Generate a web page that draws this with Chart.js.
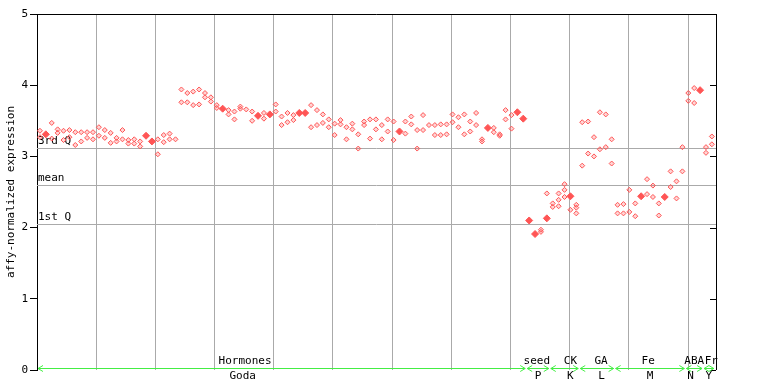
<!DOCTYPE html>
<html><head><meta charset="utf-8">
<script src="https://cdn.jsdelivr.net/npm/chart.js@4"></script>
<style>html,body{margin:0;padding:0;background:#fff}</style>
</head><body>
<canvas id="c" width="768" height="384"></canvas>
<script>
// replicate values per sample column (hollow markers)
const hollowValues = [
 [3.36,3.27],[],[3.47,3.25],[3.38,3.33],[3.36,3.23],[3.37,3.27],[3.34,3.16],[3.34,3.21],[3.34,3.26],[3.34,3.24],
 [3.41,3.29],[3.37,3.26],[3.33,3.19],[3.26,3.21],[3.37,3.24],[3.23,3.18],[3.24,3.18],[3.21,3.14],[],[],
 [3.24,3.03],[3.30,3.20],[3.32,3.24],[3.24],[3.94,3.76],[3.89,3.76],[3.91,3.72],[3.94,3.73],[3.89,3.83],[3.83,3.77],
 [3.72,3.68],[],[3.65,3.59],[3.63,3.52],[3.70,3.67],[3.66],[3.63,3.50],[],[3.61,3.53],[],
 [3.73,3.63],[3.56,3.44],[3.61,3.48],[3.58,3.51],[],[],[3.72,3.41],[3.65,3.44],[3.59,3.47],[3.52,3.41],
 [3.46,3.30],[3.51,3.45],[3.41,3.24],[3.46,3.38],[3.31,3.11],[3.49,3.44],[3.52,3.25],[3.52,3.38],[3.44,3.24],[3.52,3.35],
 [3.49,3.23],[],[3.49,3.32],[3.56,3.45],[3.37,3.11],[3.58,3.37],[3.44],[3.44,3.30],[3.45,3.30],[3.45,3.31],
 [3.59,3.48],[3.55,3.41],[3.59,3.31],[3.49,3.35],[3.61,3.44],[3.24,3.21],[],[3.40,3.34],[3.31,3.29],[3.65,3.52],
 [3.58,3.39],[],[],[],[],[1.97,1.94],[2.48],[2.34,2.29],[2.48,2.39,2.30],[2.61,2.53,2.43],
 [2.25],[2.32,2.28,2.20],[3.48,2.87],[3.49,3.04],[3.27,3.00],[3.62,3.10],[3.59,3.13],[3.24,2.90],[2.32,2.20],[2.33,2.20],
 [2.53,2.22],[2.34,2.16],[],[2.68,2.47],[2.59,2.43],[2.34,2.17],[],[2.79,2.57],[2.65,2.41],[3.13,2.79],
 [3.89,3.78],[3.96,3.75],[],[3.13,3.05],[3.28,3.17]
];
// filled markers (sample column, value)
const filledCols = [1,18,19,31,37,39,44,45,61,76,81,82,83,84,86,90,102,106,112];
const filledVals = [3.31,3.29,3.21,3.67,3.57,3.59,3.61,3.61,3.35,3.40,3.62,3.53,2.10,1.91,2.13,2.44,2.44,2.43,3.93];

const yTicks = [0,1,2,3,4,5];
const refLabels = ['3rd Q','mean','1st Q'];
const refValues = [3.12,2.60,2.05];

const groupTop    = ['Hormones','seed','CK','GA','Fe','ABA','Fr'];
const groupBottom = ['Goda','P','K','L','M','N','Y'];
const groupStart  = [0,83,87,92,98,110,113];
const groupEnd    = [82,86,91,97,109,112,114];
const topLabelPos    = [34.8,84.3,90.0,95.2,103.2,111.0,113.9];
const bottomLabelPos = [34.4,84.5,90.0,95.3,103.5,110.4,113.5];

const RED = '#ff5555';
const GREEN = '#44ee44';
const FONT = '"DejaVu Sans Mono", monospace';

const hollowData = [];
hollowValues.forEach((vals, i) => vals.forEach(v => hollowData.push({x: i, y: v})));
const filledData = filledCols.map((c, k) => ({x: c, y: filledVals[k]}));

const decor = {
  id: 'decor',
  beforeDatasetsDraw(chart) {
    const {ctx, chartArea: a, scales: {y}} = chart;
    ctx.save();
    ctx.strokeStyle = '#aaaaaa';
    ctx.lineWidth = 1;
    ctx.font = '11px ' + FONT;
    ctx.fillStyle = '#000';
    ctx.textAlign = 'left';
    ctx.textBaseline = 'bottom';
    refValues.forEach((v, k) => {
      const py = Math.round(y.getPixelForValue(v)) + 0.5;
      ctx.beginPath(); ctx.moveTo(a.left, py); ctx.lineTo(a.right, py); ctx.stroke();
    });
    refValues.forEach((v, k) => {
      const py = Math.round(y.getPixelForValue(v));
      ctx.fillText(refLabels[k], a.left + 1, py - 1);
    });
    ctx.restore();
  },
  afterDraw(chart) {
    const {ctx, chartArea: a, scales: {x, y}} = chart;
    ctx.save();
    ctx.strokeStyle = '#000';
    ctx.lineWidth = 1;
    ctx.beginPath();
    ctx.moveTo(a.left, a.top + 0.5); ctx.lineTo(a.right + 0.5, a.top + 0.5);
    ctx.moveTo(a.right + 0.5, a.top); ctx.lineTo(a.right + 0.5, a.bottom);
    ctx.stroke();
    yTicks.forEach(t => {
      const py = Math.round(y.getPixelForValue(t)) + 0.5;
      ctx.beginPath(); ctx.moveTo(a.right - 6, py); ctx.lineTo(a.right, py); ctx.stroke();
    });
    const ly = a.bottom - 1.5;
    ctx.strokeStyle = GREEN;
    groupTop.forEach((g, k) => {
      const x0 = x.getPixelForValue(groupStart[k] - 0.5) + 1;
      const x1 = x.getPixelForValue(groupEnd[k] + 0.5) - 1;
      ctx.beginPath();
      ctx.moveTo(x0, ly); ctx.lineTo(x1, ly);
      ctx.moveTo(x0 + 5, ly - 3); ctx.lineTo(x0, ly); ctx.lineTo(x0 + 5, ly + 3);
      ctx.moveTo(x1 - 5, ly - 3); ctx.lineTo(x1, ly); ctx.lineTo(x1 - 5, ly + 3);
      ctx.stroke();
    });
    ctx.fillStyle = '#000';
    ctx.font = '11px ' + FONT;
    ctx.textAlign = 'center';
    groupTop.forEach((g, k) => {
      ctx.textBaseline = 'bottom';
      ctx.fillText(g, x.getPixelForValue(topLabelPos[k]), ly - 2);
      ctx.textBaseline = 'top';
      ctx.fillText(groupBottom[k], x.getPixelForValue(bottomLabelPos[k]), ly + 2);
    });
    ctx.restore();
  }
};

new Chart(document.getElementById('c'), {
  type: 'scatter',
  data: {
    datasets: [
      {data: hollowData, pointStyle: 'rectRot', pointRadius: 2.5, pointBorderWidth: 1,
       borderColor: RED, backgroundColor: 'rgba(255,85,85,0.25)'},
      {data: filledData, pointStyle: 'rectRot', pointRadius: 3.5, pointBorderWidth: 1,
       borderColor: RED, backgroundColor: RED}
    ]
  },
  options: {
    responsive: false, animation: false, devicePixelRatio: 1,
    layout: {padding: {top: 14, right: 52, bottom: 0, left: 0}},
    plugins: {legend: {display: false}, tooltip: {enabled: false}},
    scales: {
      x: {
        type: 'linear', min: -0.5, max: 114.7, position: 'bottom',
        afterFit: s => { s.height = 14; },
        ticks: {display: false},
        grid: {display: false},
        border: {display: false}
      },
      grid: {
        type: 'linear', min: 0, max: 114.7, position: 'bottom', axis: 'x',
        afterBuildTicks: s => { s.ticks = [10,20,30,40,50,60,70,80,90,100,110].map(v => ({value: v})); },
        afterFit: s => { s.height = 0; },
        ticks: {display: false},
        grid: {color: '#aaaaaa', drawTicks: false},
        border: {display: false}
      },
      y: {
        min: 0, max: 5,
        afterBuildTicks: s => { s.ticks = yTicks.map(v => ({value: v})); },
        afterFit: s => { s.width = 37; },
        ticks: {color: '#000', font: {family: FONT, size: 11}, padding: 2},
        grid: {drawOnChartArea: false, drawTicks: true, tickLength: 7, color: '#000'},
        border: {display: true, color: '#000'},
        title: {display: true, text: 'affy-normalized expression', color: '#000',
                font: {family: FONT, size: 11}, padding: {top: 5, bottom: 0}}
      }
    }
  },
  plugins: [decor]
});
</script>
</body></html>
